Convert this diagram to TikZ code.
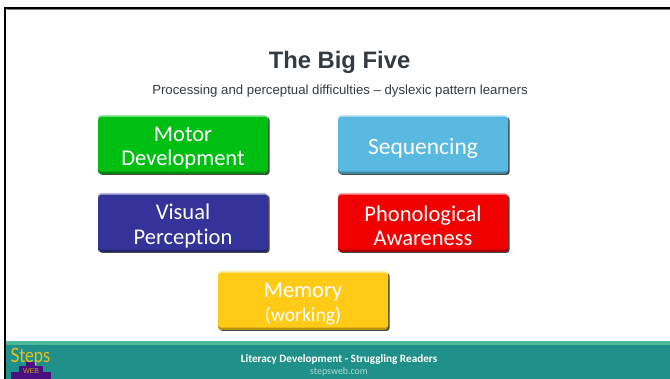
\documentclass[tikz,border=0pt]{standalone}
\usepackage{fontspec}
\setmainfont{Liberation Sans}
\newfontfamily\carl[Ligatures=NoCommon]{Carlito}
\newfontfamily\logofont{Lato}
\definecolor{teal1}{HTML}{20908A}
\definecolor{teal2}{HTML}{4ABB98}
\definecolor{cgreen}{HTML}{00BF13}
\definecolor{cblue}{HTML}{59B9E0}
\definecolor{cnavy}{HTML}{333399}
\definecolor{cred}{HTML}{F00000}
\definecolor{cyel}{HTML}{FFCB17}
\definecolor{ctext}{HTML}{333A40}
\definecolor{lpurple}{HTML}{4A1080}
\definecolor{lyel}{HTML}{E8C020}
\tikzset{
  x=1pt,y=-1pt,
  pill/.style={rounded corners=3pt,minimum width=170pt,minimum height=55pt,inner sep=0pt},
  pilltext/.style={inner sep=0pt,text=white,align=center,font=\carl\fontsize{22.5pt}{24.5pt}\selectfont,text width=170pt},
  shadowbox/.style={rounded corners=3pt,fill=black!72}
}
\newcommand{\pillbox}[5]{% name, x, y, colour, text
  \fill[shadowbox] (#2+1.5,#3+2) rectangle (#2+171.5,#3+60);
  \fill[rounded corners=3pt,fill=#4!35!white] (#2,#3) rectangle (#2+170,#3+12);
  \fill[rounded corners=3pt,fill=#4!72!black] (#2,#3+40) rectangle (#2+170,#3+59);
  \node[pill,fill=#4,anchor=north west] (#1) at (#2,#3+1.5) {};
  \node[pilltext] (#1text) at (#2+85,#3+33) {#5};
}
\begin{document}
\begin{tikzpicture}
\useasboundingbox (0,0) rectangle (670,379);
\fill[white] (0,0) rectangle (670,379);
\draw[black!50,line width=0.6pt] (6.5,9.3) -- (670,9.3);
\draw[black,line width=2.2pt] (4.4,8) -- (670,8);
\draw[black,line width=2.2pt] (5.3,6.9) -- (5.3,379);
\node[text=ctext,font=\bfseries\fontsize{23.8pt}{26pt}\selectfont] (title) at (339.5,62.5) {The Big Five};
\node[text=ctext,font=\fontsize{13.2pt}{15pt}\selectfont] (sub) at (340,91) {Processing and perceptual difficulties – dyslexic pattern learners};
\pillbox{motor}{98}{115}{cgreen}{Motor\\Development}
\pillbox{seq}{338}{115}{cblue}{\fontsize{23.5pt}{25pt}\selectfont Sequencing}
\pillbox{vis}{98}{193}{cnavy}{Visual\\Perception}
\pillbox{pho}{338}{193}{cred}{Phonological\\Awareness}
\pillbox{mem}{218}{271}{cyel}{Memory\\{\fontsize{19.7pt}{22pt}\selectfont (working)}}
\fill[teal1] (6.4,344) rectangle (670,379);
\fill[teal2] (6.4,341) rectangle (670,345);
\node[text=white,font=\carl\bfseries\fontsize{11.2pt}{13pt}\selectfont] (foot) at (339,359.5) {Literacy Development - Struggling Readers};
\node[text=white!65!teal1,font=\carl\fontsize{9.9pt}{11pt}\selectfont] (url) at (339,371.5) {stepsweb.com};
% logo
\fill[lpurple] (11,372) rectangle (51,379);
\fill[lpurple] (19,366) rectangle (43,372);
\fill[lpurple] (26,362) rectangle (35,366);
\node[text=lyel,font=\logofont\fontsize{16.5pt}{17pt}\selectfont,inner sep=0pt,yscale=1.2] (logo) at (30.5,357.5) {Steps};
\node[text=lyel!85!black,font=\fontsize{7pt}{7pt}\selectfont,inner sep=0pt] (web) at (31,371.5) {WEB};
\end{tikzpicture}
\end{document}
